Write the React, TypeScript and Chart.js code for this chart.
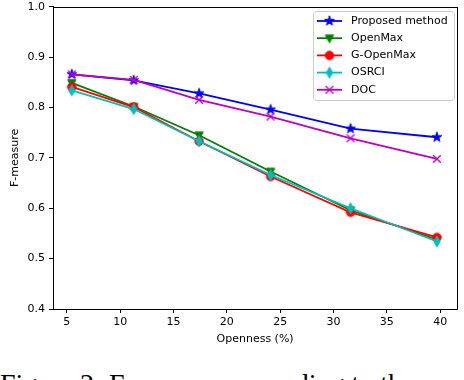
import React, { useEffect, useRef } from "react";
import { Chart, registerables } from "chart.js";

Chart.register(...registerables);

const openness = [5.46, 11.27, 17.4, 24.1, 31.6, 39.7];
const proposed = [0.866, 0.854, 0.828, 0.796, 0.758, 0.741];
const openMax = [0.849, 0.802, 0.745, 0.673, 0.596, 0.538];
const gOpenMax = [0.841, 0.801, 0.733, 0.663, 0.592, 0.542];
const osrci = [0.834, 0.797, 0.733, 0.666, 0.6, 0.534];
const doc = [0.866, 0.855, 0.815, 0.782, 0.739, 0.698];

const seriesNames = ["Proposed method", "OpenMax", "G-OpenMax", "OSRCI", "DOC"];
const seriesColors = ["#0000ff", "#008000", "#ff0000", "#00bfbf", "#bf00bf"];
const seriesMarkers = ["star", "tri", "circle", "diamond", "x"];
const xTicks = [5, 10, 15, 20, 25, 30, 35, 40];
const yTicks = [0.4, 0.5, 0.6, 0.7, 0.8, 0.9, 1.0];

const FONT = "'DejaVu Sans', sans-serif";

function makeMarker(kind: string, color: string): HTMLCanvasElement {
  const s = 14;
  const c = document.createElement("canvas");
  c.width = s;
  c.height = s;
  const ctx = c.getContext("2d")!;
  ctx.translate(s / 2, s / 2);
  ctx.fillStyle = color;
  ctx.strokeStyle = color;
  ctx.lineWidth = 1;
  ctx.beginPath();
  if (kind === "star") {
    const R = 5.2;
    const r = R * 0.382;
    for (let i = 0; i < 10; i++) {
      const rad = i % 2 === 0 ? R : r;
      const a = -Math.PI / 2 + (i * Math.PI) / 5;
      const px = rad * Math.cos(a);
      const py = rad * Math.sin(a);
      if (i === 0) ctx.moveTo(px, py);
      else ctx.lineTo(px, py);
    }
    ctx.closePath();
    ctx.fill();
    ctx.stroke();
  } else if (kind === "tri") {
    ctx.moveTo(-4.2, -3.2);
    ctx.lineTo(4.2, -3.2);
    ctx.lineTo(0, 4.6);
    ctx.closePath();
    ctx.fill();
    ctx.stroke();
  } else if (kind === "circle") {
    ctx.arc(0, 0, 4.2, 0, Math.PI * 2);
    ctx.fill();
    ctx.stroke();
  } else if (kind === "diamond") {
    ctx.moveTo(0, -5.5);
    ctx.lineTo(3.2, 0);
    ctx.lineTo(0, 5.5);
    ctx.lineTo(-3.2, 0);
    ctx.closePath();
    ctx.fill();
    ctx.stroke();
  } else {
    ctx.lineWidth = 1.4;
    ctx.moveTo(-3.8, -3.8);
    ctx.lineTo(3.8, 3.8);
    ctx.moveTo(-3.8, 3.8);
    ctx.lineTo(3.8, -3.8);
    ctx.stroke();
  }
  return c;
}

export default function App() {
  const ref = useRef<HTMLCanvasElement>(null);

  useEffect(() => {
    const values = [proposed, openMax, gOpenMax, osrci, doc];
    const markers = seriesMarkers.map((m, i) => makeMarker(m, seriesColors[i]));

    const datasets = values.map((vals, i) => ({
      label: seriesNames[i],
      data: vals.map((v, j) => ({ x: openness[j], y: v })),
      borderColor: seriesColors[i],
      backgroundColor: seriesColors[i],
      borderWidth: 1.8,
      pointStyle: markers[i] as any,
      pointRadius: 5,
      tension: 0,
      order: 5 - i,
    }));

    const framePlugin = {
      id: "frame",
      afterDatasetsDraw(chart: any) {
        const { ctx, chartArea } = chart;
        ctx.save();
        ctx.strokeStyle = "#000";
        ctx.lineWidth = 1;
        ctx.strokeRect(
          Math.round(chartArea.left) + 0.5,
          Math.round(chartArea.top) + 0.5,
          Math.round(chartArea.right - chartArea.left),
          Math.round(chartArea.bottom - chartArea.top)
        );
        // legend
        const lx = 313.5, ly = 11.5, lw = 141, lh = 89;
        const rr = 3;
        ctx.beginPath();
        ctx.moveTo(lx + rr, ly);
        ctx.lineTo(lx + lw - rr, ly);
        ctx.quadraticCurveTo(lx + lw, ly, lx + lw, ly + rr);
        ctx.lineTo(lx + lw, ly + lh - rr);
        ctx.quadraticCurveTo(lx + lw, ly + lh, lx + lw - rr, ly + lh);
        ctx.lineTo(lx + rr, ly + lh);
        ctx.quadraticCurveTo(lx, ly + lh, lx, ly + lh - rr);
        ctx.lineTo(lx, ly + rr);
        ctx.quadraticCurveTo(lx, ly, lx + rr, ly);
        ctx.closePath();
        ctx.fillStyle = "rgba(255,255,255,0.8)";
        ctx.fill();
        ctx.strokeStyle = "#cccccc";
        ctx.stroke();
        ctx.font = `11px ${FONT}`;
        ctx.textBaseline = "middle";
        ctx.textAlign = "left";
        seriesNames.forEach((name, i) => {
          const y = 21 + i * 17.2;
          ctx.strokeStyle = seriesColors[i];
          ctx.lineWidth = 1.8;
          ctx.beginPath();
          ctx.moveTo(317, y);
          ctx.lineTo(342, y);
          ctx.stroke();
          const m = markers[i];
          ctx.drawImage(m, 329.5 - m.width / 2, y - m.height / 2);
          ctx.fillStyle = "#000";
          ctx.fillText(name, 351, y);
        });
        ctx.restore();
      },
    };

    const chart = new Chart(ref.current!, {
      type: "line",
      data: { datasets: datasets as any },
      options: {
        animation: false,
        responsive: false,
        devicePixelRatio: 1,
        layout: { padding: { top: 5, right: 3, left: 0, bottom: 0 } },
        plugins: { legend: { display: false }, tooltip: { enabled: false } },
        scales: {
          x: {
            type: "linear",
            min: 3.7,
            max: 41.6,
            afterBuildTicks: (scale: any) => {
              scale.ticks = xTicks.map((v) => ({ value: v }));
            },
            afterFit: (scale: any) => {
              scale.height = 41;
              scale.paddingLeft = 0;
              scale.paddingRight = 0;
            },
            ticks: {
              includeBounds: false,
              font: { family: FONT, size: 11 },
              color: "#000",
              padding: 3,
              maxRotation: 0,
              callback: (v: any) => String(v),
            },
            grid: { drawOnChartArea: false, tickLength: 4, color: "#000" },
            border: { display: true, color: "#000" },
            title: {
              display: true,
              text: "Openness (%)",
              font: { family: FONT, size: 11 },
              color: "#000",
              padding: { top: 0, bottom: 4 },
            },
          },
          y: {
            type: "linear",
            min: 0.4,
            max: 1.0,
            afterBuildTicks: (scale: any) => {
              scale.ticks = yTicks.map((v) => ({ value: v }));
            },
            afterFit: (scale: any) => {
              scale.width = 53;
              scale.paddingTop = 0;
              scale.paddingBottom = 0;
            },
            ticks: {
              includeBounds: false,
              font: { family: FONT, size: 11 },
              color: "#000",
              padding: 4,
              callback: (v: any) => Number(v).toFixed(1),
            },
            grid: { drawOnChartArea: false, tickLength: 4, color: "#000" },
            border: { display: true, color: "#000" },
            title: {
              display: true,
              text: "F-measure",
              font: { family: FONT, size: 11 },
              color: "#000",
              padding: { top: 9, bottom: 0 },
            },
          },
        },
      },
      plugins: [framePlugin],
    });
    return () => chart.destroy();
  }, []);

  return (
    <div
      style={{
        position: "fixed",
        left: 0,
        top: 0,
        width: 464,
        height: 380,
        overflow: "hidden",
        background: "#fff",
      }}
    >
      <canvas ref={ref} width={464} height={350} style={{ position: "absolute", left: 0, top: 0 }} />
      <div
        style={{
          position: "absolute",
          left: 0,
          top: 369.5,
          whiteSpace: "nowrap",
          fontFamily: "'Liberation Serif', 'Times New Roman', serif",
          fontSize: 28,
          lineHeight: "28px",
          color: "#000",
        }}
      >
        Figure 2: F-measure according to the openness.
      </div>
    </div>
  );
}
